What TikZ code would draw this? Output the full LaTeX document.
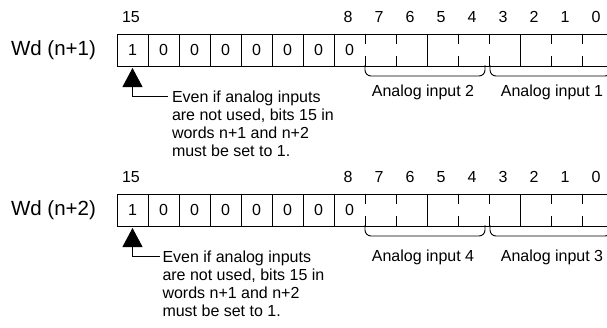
\documentclass[tikz,border=0pt]{standalone}
\usepackage{fontspec}
\setmainfont{Liberation Sans}
\usetikzlibrary{arrows.meta}

\begin{document}
\begin{tikzpicture}[x=1pt,y=-1pt,line width=1pt,
  cell/.style={minimum width=31pt,minimum height=32pt,inner sep=0pt,outer sep=0pt,font=\fontsize{16}{18}\selectfont},
  bitno/.style={inner sep=0pt,font=\fontsize{16}{18}\selectfont},
  wdlabel/.style={inner sep=0pt,font=\fontsize{20.5}{24}\selectfont},
  note/.style={align=left,inner sep=0pt,anchor=base west,font=\fontsize{16}{18}\selectfont},
  pointer/.style={line width=0.9pt,-{Triangle[width=20pt,length=19pt]},shorten >=2pt},
  bracket/.style={line width=0.9pt,rounded corners=6pt}]
\useasboundingbox (0,0) rectangle (607,327);
\clip (0,0) rectangle (607,327);

\foreach \r/\y/\ly/\la/\lb/\tx/\nx in {1/50/92.5/2/1/168/171.5, 2/210/257/4/3/160/162} {
  % word label and cells
  \node[wdlabel] (wd\r) at (53.5,\y) {Wd (n+\r)};
  \foreach \b/\v in {15/1,14/0,13/0,12/0,11/0,10/0,9/0,8/0,7/,6/,5/,4/,3/,2/,1/,0/}
    \node[cell] (w\r-\b) at ({132.5+31*(15-\b)},\y) {\v};
  \foreach \b in {15,8,7,6,5,4,3,2,1,0}
    \node[bitno] (n\r-\b) at ({131+31*(15-\b)},\y-33) {\b};

  % borders
  \draw (w\r-15.north west) -- (w\r-0.north east)
        (w\r-15.south west) -- (w\r-0.south east);
  \foreach \b in {15,14,...,8,5,2}
    \draw (w\r-\b.north west) -- (w\r-\b.south west);
  \foreach \b in {7,6,4,3,1,0} {
    \draw (w\r-\b.north west) -- ++(0,10);
    \draw (w\r-\b.south west) -- ++(0,-10);
  }

  % brackets
  \draw[bracket] ([yshift=1pt]w\r-7.south west) -- ++(0,11) -| ([xshift=-4pt,yshift=1pt]w\r-4.south east);
  \draw[bracket] ([xshift=1pt,yshift=1pt]w\r-3.south west) -- ++(0,11) -| ([xshift=-2pt,yshift=1pt]w\r-0.south east);
  \node[bitno] (ai\r-\la) at (423,\ly) {Analog input \la};
  \node[bitno] (ai\r-\lb) at (552,\ly) {Analog input \lb};

  % note with pointer
  \coordinate (t\r) at (\tx,\y+46.7);
  \node[note] (note\r) at (\nx,\y+106) {Even if analog inputs\\are not used, bits 15 in\\words n+1 and n+2\\must be set to 1.};
  \draw[pointer] (t\r) -| (w\r-15.south);
}
\end{tikzpicture}
\end{document}
